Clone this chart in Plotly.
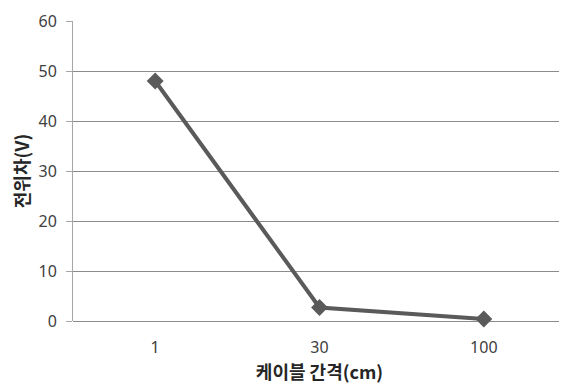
import plotly.graph_objects as go

categories = ["1", "30", "100"]
values = [48, 2.7, 0.4]
y_ticks = [0, 10, 20, 30, 40, 50, 60]
x_title = "케이블 간격(cm)"
y_title = "전위차(V)"

fig = go.Figure()
fig.add_trace(go.Scatter(
    x=categories, y=values, mode="lines+markers",
    line=dict(color="#5a5a5a", width=4),
    marker=dict(symbol="diamond", size=13, color="#5a5a5a"),
    showlegend=False, cliponaxis=False,
))

# page body has an 8px default margin, so the figure is sized to fit the window
fig.update_layout(
    width=559, height=377,
    margin=dict(l=65, r=1, t=13, b=64),
    paper_bgcolor="white", plot_bgcolor="white",
    font=dict(family="Noto Sans CJK KR, Noto Sans, sans-serif", color="#404040"),
)
fig.update_xaxes(
    type="category", range=[-0.5, 2.5], automargin=False,
    showgrid=False, showline=False, ticks="",
    ticklabelstandoff=15,
    tickfont=dict(size=16, color="#404040", family="Noto Sans, sans-serif"),
    title=dict(text=f"<b>{x_title}</b>", font=dict(size=18, color="#262626"), standoff=0),
)
fig.update_yaxes(
    range=[0, 60], tickvals=y_ticks, automargin=False,
    showgrid=True, gridcolor="#8c8c8c", gridwidth=1,
    showline=True, linecolor="#a6a6a6", linewidth=1,
    ticks="outside", ticklen=6, tickcolor="#a6a6a6",
    ticklabelstandoff=6,
    zeroline=True, zerolinecolor="#8c8c8c", zerolinewidth=1,
    tickfont=dict(size=16, color="#404040", family="Noto Sans, sans-serif"),
    title=dict(text=f"<b>{y_title}</b>", font=dict(size=18, color="#262626"), standoff=12),
)

fig.write_html("out.html")
